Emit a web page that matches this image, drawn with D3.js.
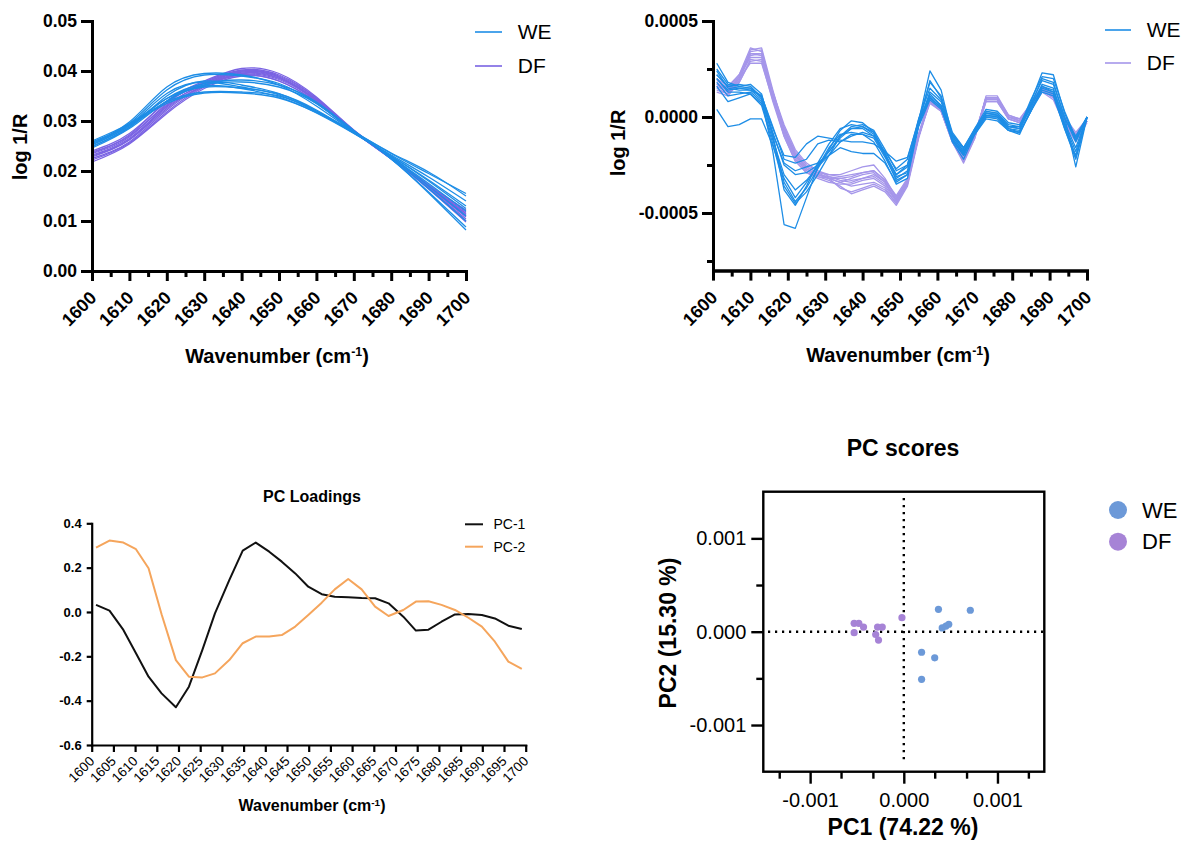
<!DOCTYPE html>
<html>
<head>
<meta charset="utf-8">
<script src="https://cdn.jsdelivr.net/npm/d3@7"></script>
<style>
  body { margin: 0; background: #fff; }
  svg { font-family: "Liberation Sans", Arial, Helvetica, sans-serif; }
</style>
</head>
<body>
<svg id="fig" width="1183" height="843"></svg>
<script>
///////////////////////////////////////////////////////////////////
// DATA ///////////////////////////////////////////////////////////
var groupNames = ["WE", "DF"];
var loadingNames = ["PC-1", "PC-2"];

// raw spectra (log 1/R), sampled every 10 cm-1
var spectraWN = [1600, 1610, 1620, 1630, 1640, 1650, 1660, 1670, 1680, 1690, 1700];
var weSpectra = [
  [0.0258, 0.0298, 0.0368, 0.0395, 0.0392, 0.0372, 0.0330, 0.0278, 0.0228, 0.0170, 0.0110],
  [0.0255, 0.0295, 0.0362, 0.0392, 0.0390, 0.0375, 0.0335, 0.0280, 0.0226, 0.0165, 0.0100],
  [0.0252, 0.0290, 0.0345, 0.0375, 0.0382, 0.0372, 0.0338, 0.0281, 0.0224, 0.0158, 0.0088],
  [0.0248, 0.0288, 0.0340, 0.0372, 0.0378, 0.0368, 0.0335, 0.0280, 0.0224, 0.0156, 0.0082],
  [0.0260, 0.0295, 0.0338, 0.0358, 0.0358, 0.0350, 0.0320, 0.0279, 0.0235, 0.0195, 0.0155],
  [0.0257, 0.0292, 0.0335, 0.0356, 0.0356, 0.0346, 0.0317, 0.0278, 0.0236, 0.0198, 0.0150],
  [0.0250, 0.0287, 0.0350, 0.0380, 0.0372, 0.0355, 0.0320, 0.0276, 0.0230, 0.0180, 0.0125],
  [0.0253, 0.0292, 0.0355, 0.0378, 0.0368, 0.0352, 0.0318, 0.0276, 0.0228, 0.0175, 0.0120],
  [0.0246, 0.0285, 0.0340, 0.0370, 0.0365, 0.0348, 0.0316, 0.0275, 0.0230, 0.0182, 0.0130],
  [0.0255, 0.0293, 0.0345, 0.0368, 0.0366, 0.0354, 0.0322, 0.0277, 0.0232, 0.0188, 0.0140]
];
var dfSpectra = [
  [0.0238, 0.0272, 0.0340, 0.0380, 0.0405, 0.0395, 0.0348, 0.0282, 0.0228, 0.0172, 0.0118],
  [0.0235, 0.0268, 0.0335, 0.0378, 0.0402, 0.0392, 0.0346, 0.0281, 0.0227, 0.0170, 0.0115],
  [0.0232, 0.0265, 0.0330, 0.0375, 0.0400, 0.0390, 0.0345, 0.0281, 0.0226, 0.0168, 0.0110],
  [0.0228, 0.0262, 0.0325, 0.0372, 0.0398, 0.0388, 0.0343, 0.0280, 0.0226, 0.0168, 0.0108],
  [0.0225, 0.0258, 0.0322, 0.0370, 0.0395, 0.0385, 0.0342, 0.0280, 0.0225, 0.0166, 0.0104],
  [0.0222, 0.0256, 0.0318, 0.0368, 0.0393, 0.0383, 0.0340, 0.0279, 0.0225, 0.0165, 0.0100],
  [0.0218, 0.0254, 0.0315, 0.0365, 0.0390, 0.0380, 0.0338, 0.0279, 0.0224, 0.0164, 0.0098],
  [0.0236, 0.0270, 0.0332, 0.0372, 0.0392, 0.0380, 0.0337, 0.0278, 0.0226, 0.0172, 0.0122],
  [0.0230, 0.0263, 0.0328, 0.0370, 0.0396, 0.0386, 0.0341, 0.0280, 0.0227, 0.0170, 0.0112],
  [0.0240, 0.0275, 0.0338, 0.0376, 0.0400, 0.0388, 0.0340, 0.0279, 0.0225, 0.0170, 0.0115]
];

// second derivative spectra, values in units of 1e-4
var derivWN = [1601, 1604, 1607, 1610, 1613, 1616, 1619, 1622, 1625, 1628, 1631, 1634, 1637, 1640, 1643, 1646, 1649,
               1652, 1655, 1658, 1661, 1664, 1667, 1670, 1673, 1676, 1679, 1682, 1685, 1688, 1691, 1694, 1697, 1700];
var weDeriv = [
  [2.8, 1.8, 1.6, 1.7, 1.2, -1.0, -3.8, -4.6, -3.6, -2.4, -1.4, -0.6, -0.4, -0.5, -0.9, -2.0, -3.3, -3.0, -0.2, 2.4, 1.4, -1.0, -1.8, -0.7, 0.3, 0.2, -0.5, -0.6, 0.8, 2.3, 2.2, 0.2, -1.2, 0.0],
  [2.2, 1.6, 1.5, 1.4, 0.9, -1.8, -5.6, -5.8, -4.2, -2.6, -1.6, -0.9, -0.8, -0.9, -1.3, -2.3, -3.5, -3.2, -0.4, 1.9, 1.0, -1.2, -2.0, -0.8, 0.2, 0.1, -0.6, -0.7, 0.6, 2.0, 1.8, 0.0, -2.6, 0.0],
  [0.4, -0.5, -0.4, -0.1, -0.1, -1.5, -3.2, -4.2, -3.4, -2.5, -1.8, -1.0, -0.6, -0.6, -1.0, -2.0, -3.0, -2.6, -0.3, 1.2, 0.6, -1.2, -1.9, -0.8, 0.1, 0.0, -0.6, -0.8, 0.3, 1.6, 1.3, -0.4, -1.8, 0.0],
  [2.0, 1.4, 1.5, 1.5, 1.1, -0.6, -2.0, -2.1, -1.4, -1.0, -1.1, -1.2, -1.3, -1.3, -1.4, -1.8, -2.3, -2.1, -0.2, 1.1, 0.6, -0.9, -1.6, -0.7, 0.2, 0.2, -0.4, -0.5, 0.6, 1.6, 1.4, -0.1, -1.0, 0.0],
  [2.5, 1.7, 1.6, 1.5, 1.0, -0.8, -2.5, -3.0, -2.9, -2.5, -1.8, -1.1, -0.6, -0.5, -0.8, -1.9, -3.1, -2.9, -0.4, 1.3, 0.8, -1.0, -1.8, -0.8, 0.1, 0.1, -0.5, -0.6, 0.5, 1.7, 1.5, -0.3, -1.6, 0.0],
  [1.6, 0.8, 1.0, 1.2, 0.7, -1.2, -3.0, -3.8, -3.3, -2.6, -2.0, -1.3, -0.9, -0.9, -1.1, -2.1, -3.2, -2.8, -0.4, 1.0, 0.5, -1.3, -2.2, -0.9, 0.0, 0.0, -0.7, -0.8, 0.3, 1.5, 1.3, -0.5, -2.0, 0.0],
  [2.2, 1.6, 1.7, 1.6, 1.0, -1.0, -3.4, -4.4, -3.7, -2.7, -1.7, -0.7, -0.2, -0.3, -0.8, -1.9, -3.0, -2.5, -0.1, 1.8, 1.1, -0.8, -1.6, -0.6, 0.4, 0.3, -0.3, -0.4, 0.7, 1.9, 1.7, 0.0, -1.3, 0.0],
  [1.8, 1.1, 1.2, 1.3, 0.8, -0.9, -2.4, -2.8, -2.6, -2.4, -2.0, -1.6, -1.8, -1.9, -1.9, -2.4, -3.4, -3.0, -0.5, 0.9, 0.4, -1.1, -1.9, -0.9, -0.1, -0.2, -0.7, -0.8, 0.3, 1.3, 1.1, -0.6, -2.2, 0.0],
  [2.4, 1.5, 1.4, 1.4, 1.1, -0.5, -2.2, -2.4, -2.2, -1.4, -1.2, -1.3, -1.0, -0.8, -1.0, -1.8, -2.7, -2.2, -0.1, 1.5, 0.9, -0.9, -1.7, -0.6, 0.2, 0.1, -0.5, -0.5, 0.9, 2.1, 2.0, 0.3, -1.1, 0.0],
  [2.0, 1.3, 1.3, 1.2, 0.6, -1.4, -3.6, -4.5, -3.9, -3.0, -2.0, -1.0, -0.5, -0.4, -0.7, -1.7, -2.8, -2.5, -0.3, 1.0, 0.5, -1.2, -2.0, -0.8, 0.0, -0.1, -0.7, -0.9, 0.4, 1.4, 1.2, -0.6, -2.1, 0.0]
];
var dfDeriv = [
  [1.6, 1.3, 2.0, 3.5, 3.6, 1.4, -0.6, -2.0, -2.7, -3.0, -3.2, -3.4, -3.6, -3.5, -3.4, -3.7, -4.5, -3.5, -1.0, 0.9, 0.4, -1.2, -2.2, -1.0, 1.0, 1.0, 0.0, -0.2, 0.6, 1.5, 1.1, -0.2, -1.0, -0.2],
  [1.7, 1.4, 2.1, 3.4, 3.5, 1.2, -0.8, -2.1, -2.8, -3.1, -3.3, -3.6, -4.0, -3.8, -3.6, -3.9, -4.6, -3.6, -1.1, 0.8, 0.3, -1.3, -2.4, -1.1, 1.1, 1.1, 0.1, -0.1, 0.5, 1.4, 1.0, -0.3, -1.1, -0.2],
  [1.5, 1.2, 1.9, 3.3, 3.3, 1.1, -0.7, -2.0, -2.6, -2.9, -3.0, -3.0, -2.8, -2.6, -2.5, -3.2, -4.2, -3.3, -0.9, 1.0, 0.5, -1.1, -2.1, -0.9, 0.9, 0.9, 0.0, -0.2, 0.7, 1.6, 1.2, -0.1, -0.9, -0.1],
  [1.9, 1.5, 2.2, 3.6, 3.4, 1.0, -1.0, -2.3, -2.9, -3.2, -3.4, -3.5, -3.5, -3.3, -3.2, -3.6, -4.4, -3.4, -1.0, 0.9, 0.4, -1.2, -2.3, -1.0, 1.0, 1.0, 0.0, -0.1, 0.6, 1.5, 1.1, -0.2, -1.0, -0.2],
  [1.4, 1.2, 1.8, 2.9, 3.0, 1.0, -0.6, -1.8, -2.5, -2.8, -3.0, -3.1, -3.0, -2.9, -2.8, -3.3, -4.1, -3.2, -0.9, 0.8, 0.3, -1.2, -2.2, -1.0, 0.8, 0.8, -0.1, -0.3, 0.5, 1.4, 1.0, -0.3, -1.1, -0.2],
  [2.0, 1.6, 2.2, 3.3, 3.2, 1.3, -0.4, -1.7, -2.4, -2.8, -3.1, -3.2, -3.3, -3.2, -3.1, -3.5, -4.3, -3.3, -0.9, 1.0, 0.5, -1.1, -2.1, -0.9, 1.0, 1.0, 0.1, -0.1, 0.7, 1.6, 1.2, 0.0, -0.8, -0.1],
  [1.6, 1.3, 2.0, 2.8, 2.8, 0.9, -0.9, -2.2, -2.8, -3.0, -3.1, -3.3, -3.4, -3.2, -3.0, -3.4, -4.3, -3.4, -1.0, 0.8, 0.3, -1.3, -2.3, -1.0, 0.9, 0.9, -0.1, -0.3, 0.5, 1.4, 1.0, -0.3, -1.2, -0.2],
  [1.8, 1.4, 2.1, 3.1, 3.1, 1.2, -0.5, -1.9, -2.6, -2.9, -3.2, -3.7, -3.9, -3.7, -3.5, -3.8, -4.5, -3.5, -1.0, 0.9, 0.4, -1.2, -2.2, -1.0, 1.0, 1.0, 0.0, -0.2, 0.6, 1.5, 1.1, -0.2, -1.0, -0.2],
  [1.3, 1.1, 1.8, 3.0, 2.9, 0.8, -1.0, -2.3, -2.9, -3.1, -3.2, -3.2, -3.1, -2.9, -2.8, -3.3, -4.2, -3.3, -0.9, 0.7, 0.3, -1.3, -2.3, -1.1, 0.8, 0.8, -0.1, -0.3, 0.4, 1.3, 0.9, -0.4, -1.3, -0.3],
  [1.7, 1.4, 2.0, 3.2, 3.3, 1.3, -0.6, -2.0, -2.7, -3.0, -3.2, -3.4, -3.2, -3.0, -2.9, -3.4, -4.4, -3.4, -1.0, 0.9, 0.4, -1.2, -2.2, -1.0, 0.9, 0.9, 0.0, -0.2, 0.6, 1.5, 1.1, -0.2, -1.0, -0.2]
];

// PC loadings
var loadWN = [1601.0, 1604.1, 1607.3, 1610.2, 1613.1, 1616.1, 1619.4, 1622.4, 1625.5, 1628.4, 1631.7, 1634.8, 1637.8,
              1640.9, 1643.8, 1646.9, 1649.9, 1653.0, 1656.0, 1659.1, 1662.2, 1665.3, 1668.4, 1671.8, 1674.7, 1677.6,
              1680.6, 1683.7, 1686.8, 1689.9, 1692.9, 1696.0, 1699.1];
var pc1Loadings = [0.032, 0.006, -0.081, -0.186, -0.292, -0.367, -0.430, -0.337, -0.171, -0.006, 0.144, 0.277, 0.313,
                   0.272, 0.227, 0.174, 0.114, 0.080, 0.069, 0.066, 0.063, 0.062, 0.039, -0.021, -0.084, -0.080,
                   -0.044, -0.011, -0.009, -0.014, -0.029, -0.062, -0.077];
var pc2Loadings = [0.290, 0.322, 0.313, 0.283, 0.197, -0.010, -0.217, -0.292, -0.295, -0.277, -0.217, -0.141, -0.111,
                   -0.111, -0.104, -0.066, -0.014, 0.042, 0.102, 0.149, 0.102, 0.024, -0.018, 0.009, 0.047, 0.048,
                   0.032, 0.009, -0.026, -0.066, -0.134, -0.224, -0.257];

// PC scores [PC1, PC2]
var weScores = [[0.00037, 0.00024], [0.00071, 0.00023], [0.00041, 0.00004], [0.00045, 0.00006], [0.00048, 0.00008],
                [0.00019, -0.00022], [0.00033, -0.00028], [0.00019, -0.00051]];
var dfScores = [[-0.00053, 0.00009], [-0.00048, 0.00009], [-0.00043, 0.00005], [-0.00053, -0.00001], [-0.00028, 0.00005],
                [-0.00023, 0.00005], [-0.00030, -0.00003], [-0.00027, -0.00009], [-0.00002, 0.00015]];

// tick values
var spectraTicks = [1600, 1610, 1620, 1630, 1640, 1650, 1660, 1670, 1680, 1690, 1700];
var spectraMinor = [1605, 1615, 1625, 1635, 1645, 1655, 1665, 1675, 1685, 1695];
var rawYTicks = [0, 0.01, 0.02, 0.03, 0.04, 0.05];
var derivYTicks = [0.0005, 0, -0.0005];
var derivYMinor = [0.00025, -0.00025, -0.00075];
var loadXTicks = [1600, 1605, 1610, 1615, 1620, 1625, 1630, 1635, 1640, 1645, 1650, 1655, 1660, 1665, 1670, 1675,
                  1680, 1685, 1690, 1695, 1700];
var loadYTicks = [0.4, 0.2, 0.0, -0.2, -0.4, -0.6];
var scoreTicks = [-0.001, 0, 0.001];
var scoreXMinor = [-0.00133, -0.00067, -0.00033, 0.00033, 0.00067, 0.00133];
var scoreYMinor = [-0.0005, 0.0005];

///////////////////////////////////////////////////////////////////
// HELPERS ////////////////////////////////////////////////////////
var svg = d3.select("#fig");
var WE_BLUE = "#1d8de6", DF_PURPLE = "#7a63e3", DF_LIGHT = "#a596ea";

function styleAxis(sel, w){
  sel.select(".domain").attr("stroke", "#000").attr("stroke-width", w).attr("stroke-linecap", "square");
  sel.selectAll(".tick line").attr("stroke", "#000").attr("stroke-width", w);
}

function bottomAxis(scale, y, major, minor, o){
  var g = svg.append("g");
  if (minor) {
    var gm = g.append("g").attr("transform", "translate(0," + y + ")")
      .call(d3.axisBottom(scale).tickValues(minor).tickSize(o.minorLen).tickSizeOuter(0).tickFormat(""));
    styleAxis(gm, o.w);
  }
  var ga = g.append("g").attr("transform", "translate(0," + y + ")")
    .call(d3.axisBottom(scale).tickValues(major).tickSize(o.majorLen).tickSizeOuter(0).tickFormat(o.fmt));
  styleAxis(ga, o.w);
  var t = ga.selectAll("text").attr("fill", "#000")
    .style("font-family", "inherit").style("font-size", o.size + "px").style("font-weight", o.weight);
  if (o.rotate) {
    t.attr("x", 0).attr("y", 0).attr("dy", null)
      .attr("transform", "translate(" + o.dx + "," + o.dy + ") rotate(-45)")
      .style("text-anchor", "end");
  } else {
    t.attr("y", o.dy).attr("dy", null);
  }
  return g;
}

function leftAxis(scale, x, major, minor, o){
  var g = svg.append("g");
  if (minor) {
    var gm = g.append("g").attr("transform", "translate(" + x + ",0)")
      .call(d3.axisLeft(scale).tickValues(minor).tickSize(o.minorLen).tickSizeOuter(0).tickFormat(""));
    styleAxis(gm, o.w);
  }
  var ga = g.append("g").attr("transform", "translate(" + x + ",0)")
    .call(d3.axisLeft(scale).tickValues(major).tickSize(o.majorLen).tickSizeOuter(0).tickFormat(o.fmt));
  styleAxis(ga, o.w);
  ga.selectAll("text").attr("fill", "#000").attr("x", -(o.majorLen + o.pad))
    .style("font-family", "inherit").style("font-size", o.size + "px").style("font-weight", o.weight);
  return g;
}

function fixed(n){ return function(d){ return d.toFixed(n); }; }

function drawLines(xs, ys, wn, rows, unit, color, width, curve){
  var line = d3.line()
    .x(function(d, i){ return xs(wn[i]); })
    .y(function(d){ return ys(d * unit); })
    .curve(curve);
  svg.append("g").selectAll("path").data(rows).enter().append("path")
    .attr("d", line)
    .attr("fill", "none")
    .attr("stroke", color)
    .attr("stroke-width", width)
    .attr("stroke-linejoin", "round");
}

function wavenumberTitle(x, y, size){
  var t = svg.append("text").attr("x", x).attr("y", y).attr("text-anchor", "middle")
    .style("font-size", size + "px").style("font-weight", "bold");
  t.append("tspan").text("Wavenumber (cm");
  t.append("tspan").attr("baseline-shift", "super").style("font-size", (size * 0.62) + "px").text("-1");
  t.append("tspan").text(")");
}

function yTitle(text, x, y, size){
  svg.append("text").attr("transform", "translate(" + x + "," + y + ") rotate(-90)")
    .attr("text-anchor", "middle").attr("dy", "0.35em")
    .style("font-size", size + "px").style("font-weight", "bold").text(text);
}

function lineLegend(x, y0, gap, names, colors, len, size, width){
  var g = svg.append("g");
  names.forEach(function(name, i){
    var y = y0 + i * gap;
    g.append("line").attr("x1", x).attr("x2", x + len).attr("y1", y).attr("y2", y)
      .attr("stroke", colors[i]).attr("stroke-width", width);
    g.append("text").attr("x", x + len + (size * 0.75)).attr("y", y).attr("dy", "0.35em")
      .style("font-size", size + "px").text(name);
  });
}

///////////////////////////////////////////////////////////////////
// PANEL A: RAW SPECTRA ///////////////////////////////////////////
var xA = d3.scaleLinear().domain([1600, 1700]).range([92, 466]);
var yA = d3.scaleLinear().domain([0, 0.05]).range([271, 21]);
drawLines(xA, yA, spectraWN, dfSpectra, 1, DF_PURPLE, 1.3, d3.curveNatural);
drawLines(xA, yA, spectraWN, weSpectra, 1, WE_BLUE, 1.3, d3.curveNatural);
leftAxis(yA, 92, rawYTicks, null, {w: 3, majorLen: 11, pad: 4, size: 17.5, weight: "bold", fmt: fixed(2)});
bottomAxis(xA, 271, spectraTicks, spectraMinor,
  {w: 3, majorLen: 10, minorLen: 6, size: 18, weight: "bold", fmt: String, rotate: true, dx: 5, dy: 28});
wavenumberTitle(277, 363, 20);
yTitle("log 1/R", 20, 147, 20);
lineLegend(475, 32, 34, groupNames, [WE_BLUE, DF_PURPLE], 27, 21, 1.6);

///////////////////////////////////////////////////////////////////
// PANEL B: SECOND DERIVATIVE /////////////////////////////////////
var xB = d3.scaleLinear().domain([1600, 1700]).range([713, 1087]);
var yB = d3.scaleLinear().domain([-0.0008, 0.0005]).range([270.6, 21]);
drawLines(xB, yB, derivWN, dfDeriv, 1e-4, DF_LIGHT, 1.3, d3.curveLinear);
drawLines(xB, yB, derivWN, weDeriv, 1e-4, WE_BLUE, 1.3, d3.curveLinear);
leftAxis(yB, 713, derivYTicks, derivYMinor, {w: 3, majorLen: 11, minorLen: 6, pad: 4, size: 17.5, weight: "bold", fmt: fixed(4)});
bottomAxis(xB, 270.6, spectraTicks, spectraMinor,
  {w: 3, majorLen: 10, minorLen: 6, size: 18, weight: "bold", fmt: String, rotate: true, dx: 5, dy: 28});
wavenumberTitle(898, 362, 20);
yTitle("log 1/R", 618, 143, 20);
lineLegend(1105, 30, 33, groupNames, [WE_BLUE, DF_LIGHT], 26, 21, 1.6);

///////////////////////////////////////////////////////////////////
// PANEL C: PC LOADINGS ///////////////////////////////////////////
var xC = d3.scaleLinear().domain([1600, 1700]).range([91.7, 525.7]);
var yC = d3.scaleLinear().domain([-0.6, 0.4]).range([745, 523.3]);
var loadColors = ["#111111", "#f5a55c"];
[pc1Loadings, pc2Loadings].forEach(function(series, k){
  svg.append("path").datum(series)
    .attr("d", d3.line().x(function(d, i){ return xC(loadWN[i]); }).y(function(d){ return yC(d); }))
    .attr("fill", "none").attr("stroke", loadColors[k]).attr("stroke-width", 2).attr("stroke-linejoin", "round");
});
leftAxis(yC, 91.7, loadYTicks, null, {w: 2.2, majorLen: 5, pad: 5, size: 13, weight: "bold", fmt: fixed(1)});
bottomAxis(xC, 745, loadXTicks, null,
  {w: 2.2, majorLen: 7, size: 13.5, weight: "normal", fmt: String, rotate: true, dx: 3, dy: 17});
svg.append("text").attr("x", 312).attr("y", 502).attr("text-anchor", "middle")
  .style("font-size", "16px").style("font-weight", "bold").text("PC Loadings");
wavenumberTitle(312, 811, 16);
lineLegend(465, 524.3, 22.4, loadingNames, loadColors, 18, 14, 2);

///////////////////////////////////////////////////////////////////
// PANEL D: PC SCORES /////////////////////////////////////////////
var xD = d3.scaleLinear().domain([-0.0015, 0.0015]).range([763.3, 1044.3]);
var yD = d3.scaleLinear().domain([-0.0015, 0.0015]).range([771.7, 491.7]);
var scoreColors = ["#6c99d8", "#a683d6"];

svg.append("rect").attr("x", xD.range()[0]).attr("y", yD.range()[1])
  .attr("width", xD.range()[1] - xD.range()[0]).attr("height", yD.range()[0] - yD.range()[1])
  .attr("fill", "none").attr("stroke", "#000").attr("stroke-width", 2.4);

// dotted zero lines
svg.append("line").attr("x1", xD(0)).attr("x2", xD(0)).attr("y1", 498).attr("y2", 764)
  .attr("stroke", "#000").attr("stroke-width", 2.4).attr("stroke-dasharray", "2.2,4.8");
svg.append("line").attr("x1", 768).attr("x2", 1043).attr("y1", yD(0)).attr("y2", yD(0))
  .attr("stroke", "#000").attr("stroke-width", 2.4).attr("stroke-dasharray", "2.2,4.8");

[weScores, dfScores].forEach(function(pts, k){
  svg.append("g").selectAll("circle").data(pts).enter().append("circle")
    .attr("cx", function(d){ return xD(d[0]); })
    .attr("cy", function(d){ return yD(d[1]); })
    .attr("r", 3.6)
    .attr("fill", scoreColors[k]);
});

var gy = leftAxis(yD, 763.3, scoreTicks, scoreYMinor, {w: 2.4, majorLen: 12, minorLen: 7, pad: 5, size: 20, weight: "normal", fmt: fixed(3)});
gy.selectAll(".domain").remove();
var gx = bottomAxis(xD, 771.7, scoreTicks, scoreXMinor,
  {w: 2.4, majorLen: 12, minorLen: 7, size: 20, weight: "normal", fmt: fixed(3), rotate: false, dy: 35});
gx.selectAll(".domain").remove();

svg.append("text").attr("x", 903).attr("y", 456).attr("text-anchor", "middle")
  .style("font-size", "23px").style("font-weight", "bold").text("PC scores");
yTitle("PC2 (15.30 %)", 668, 633, 23);
svg.append("text").attr("x", 903).attr("y", 835).attr("text-anchor", "middle")
  .style("font-size", "23px").style("font-weight", "bold").text("PC1 (74.22 %)");

// legend
groupNames.forEach(function(name, i){
  var y = 510 + i * 31.7;
  svg.append("circle").attr("cx", 1118).attr("cy", y).attr("r", 9).attr("fill", scoreColors[i]);
  svg.append("text").attr("x", 1142).attr("y", y).attr("dy", "0.35em")
    .style("font-size", "22px").text(name);
});
</script>
</body>
</html>
